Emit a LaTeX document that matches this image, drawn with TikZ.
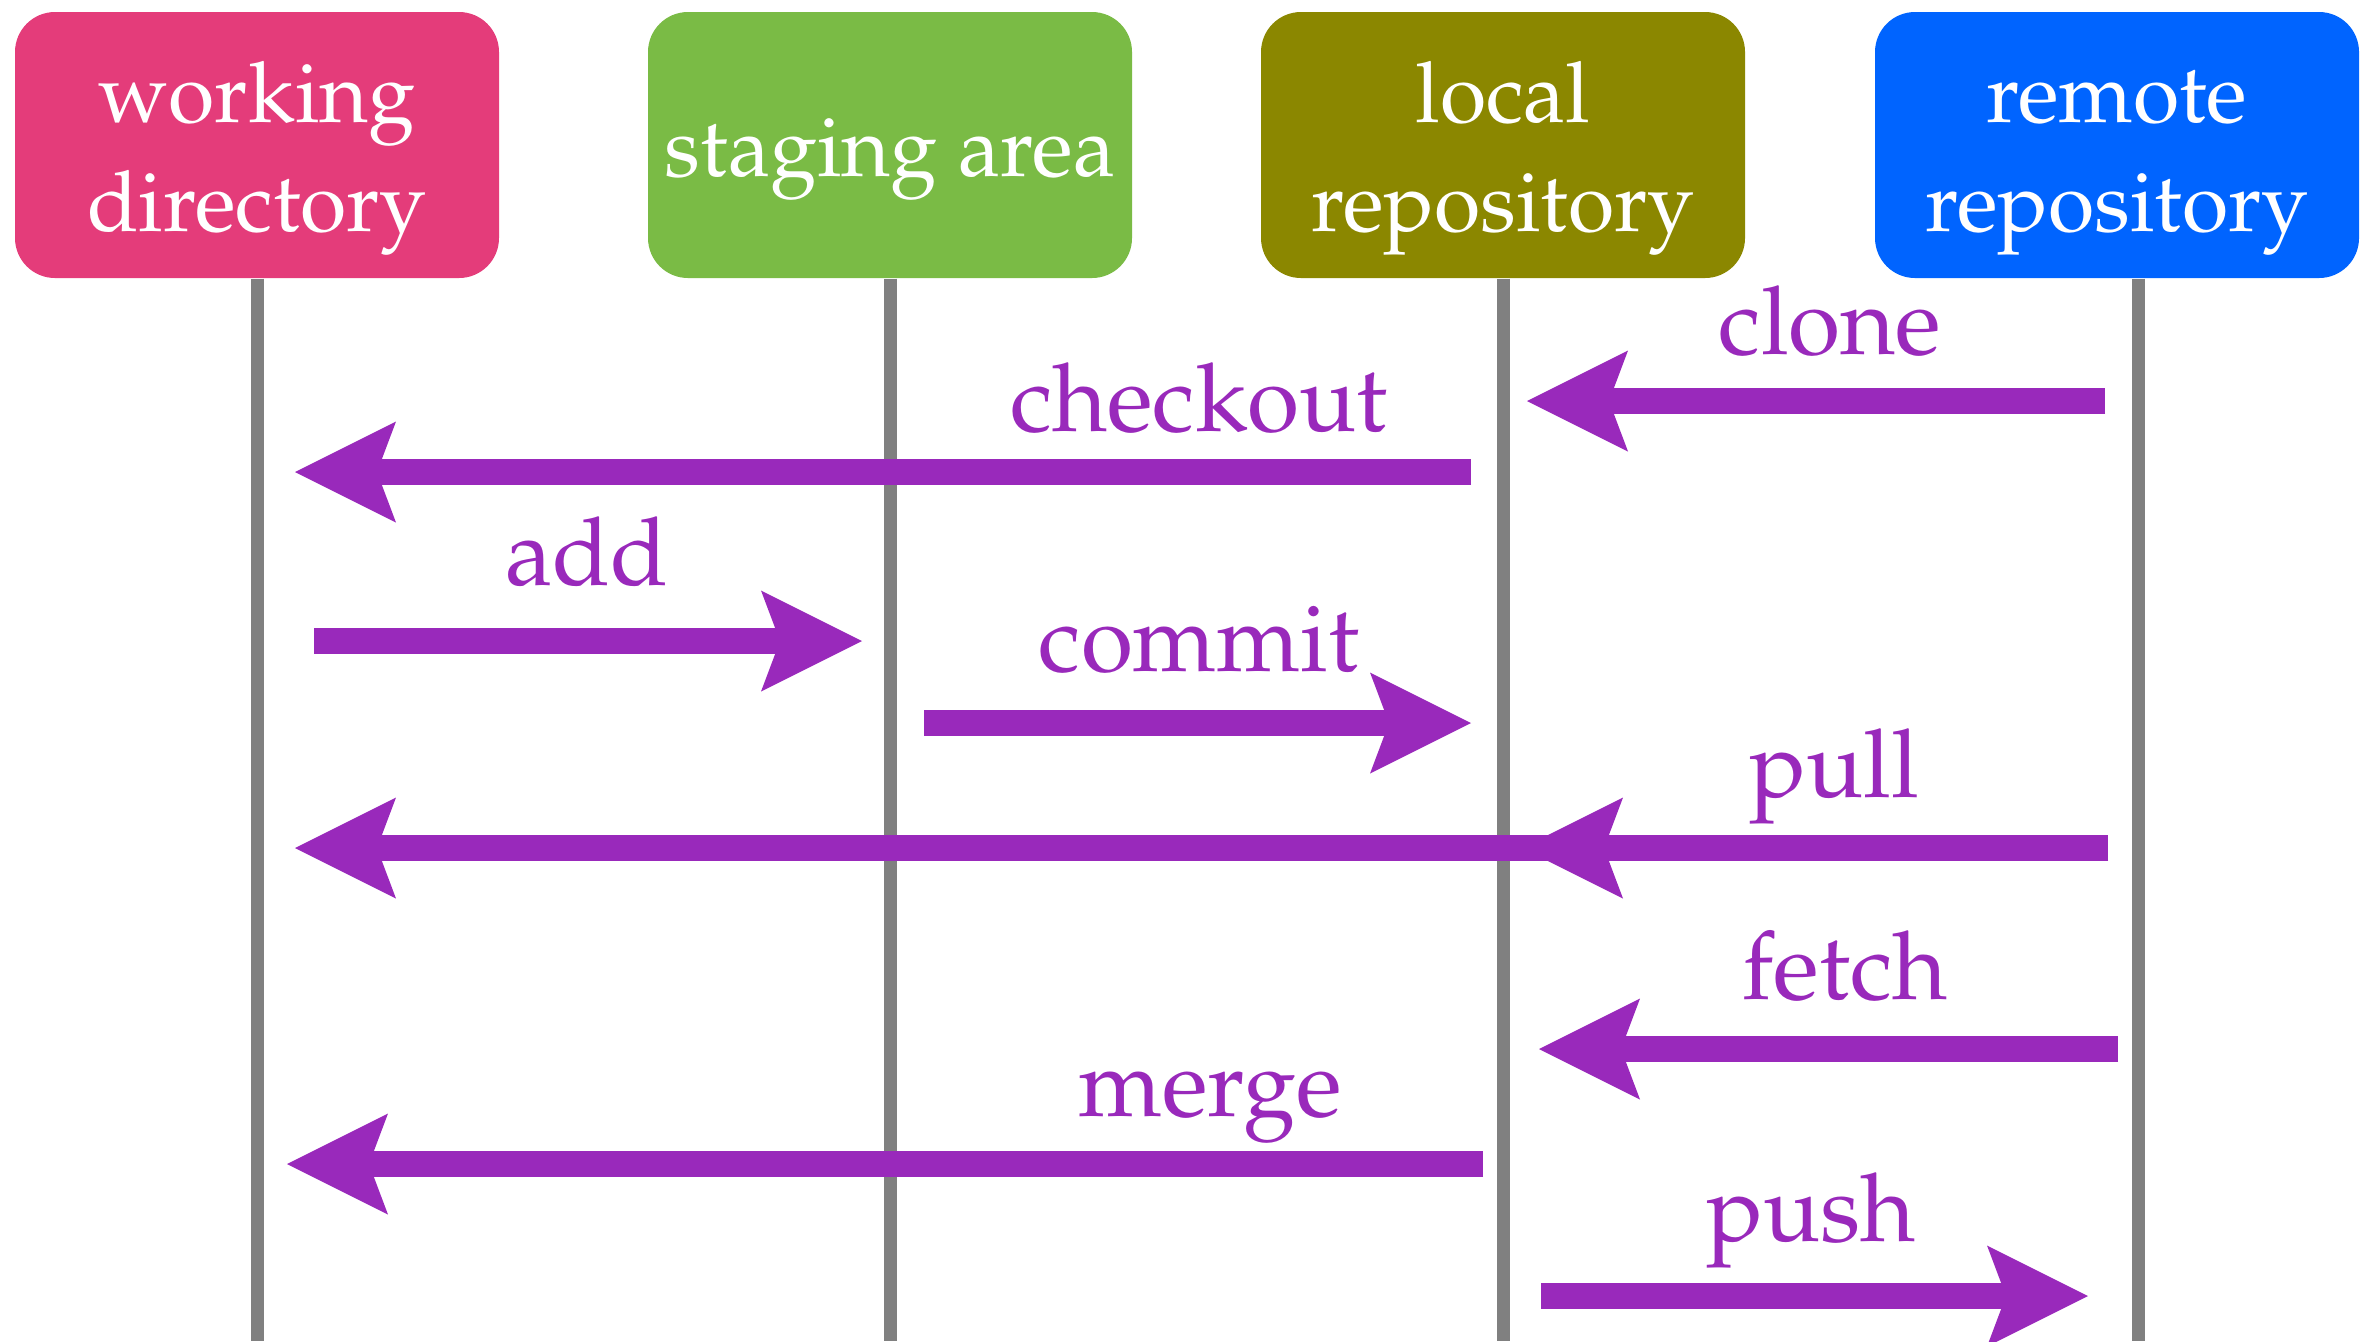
\documentclass[tikz,border=0pt]{standalone}
\usepackage[T1]{fontenc}
\usepackage{mathpazo}
\usepackage{xcolor}
\definecolor{gitpink}{RGB}{228,60,122}
\definecolor{gitgreen}{RGB}{122,187,69}
\definecolor{gitolive}{RGB}{139,135,0}
\definecolor{gitblue}{RGB}{0,100,255}
\definecolor{gitpurple}{RGB}{153,41,187}
\definecolor{gitgray}{RGB}{128,128,128}
\usepackage{tikz}
\usetikzlibrary{arrows.meta, positioning}

\newcommand{\areaname}[1]{\raisebox{-0.1cm}[\height][\depth]{\begin{tabular}{@{}c@{}}#1\end{tabular}}}

\tikzset{
  area/.style={rounded corners=0.4cm, minimum width=4.84cm, minimum height=2.66cm,
               inner sep=0pt, text=white, font=\fontsize{24}{31}\selectfont},
  lifeline/.style={draw=gitgray, line width=0.13cm},
  gitcmd/.style={draw=gitpurple, line width=0.26cm,
               -{Stealth[length=1.01cm, width=1.01cm, inset=0.19cm, line width=0pt]}},
  cmdlabel/.style={text=gitpurple, anchor=base, inner sep=0pt, font=\fontsize{27}{32}\selectfont}
}

\begin{document}
\begin{tikzpicture}
      \useasboundingbox (0,0) rectangle (23.71,-13.41);

      % the four areas
      \node[area, fill=gitpink]  (wd) at (2.57,-1.45)  {\areaname{working\\directory}};
      \node[area, fill=gitgreen] (sa) at (8.90,-1.45)  {\areaname{staging area}};
      \node[area, fill=gitolive] (lr) at (15.03,-1.45) {\areaname{local\\repository}};
      \node[area, fill=gitblue]  (rr) at (21.17,-1.45) {\areaname{remote\\repository}};

      % lifelines
      \coordinate (wdbot) at (2.57,-13.41);
      \coordinate (sabot) at (8.90,-13.41);
      \coordinate (lrbot) at (15.03,-13.41);
      \coordinate (rrbot) at (21.38,-13.41);
      \draw[lifeline] (wd.south) -- (wdbot);
      \draw[lifeline] (sa.south) -- (sabot);
      \draw[lifeline] (lr.south) -- (lrbot);
      \draw[lifeline] (rr.south -| rrbot) -- (rrbot);

      % clone
      \coordinate (clone1) at (21.05,-4.01);
      \coordinate (clone2) at (15.27,-4.01);
      \draw[gitcmd] (clone1) -- (clone2);
      \node[cmdlabel] (lclone) at (18.30,-3.54) {clone};

      % checkout
      \coordinate (checkout1) at (14.71,-4.72);
      \coordinate (checkout2) at (2.95,-4.72);
      \draw[gitcmd] (checkout1) -- (checkout2);
      \node[cmdlabel] (lcheckout) at (11.99,-4.31) {checkout};

      % add
      \coordinate (add1) at (3.14,-6.41);
      \coordinate (add2) at (8.62,-6.41);
      \draw[gitcmd] (add1) -- (add2);
      \node[cmdlabel] (ladd) at (5.87,-5.85) {add};

      % commit
      \coordinate (commit1) at (9.24,-7.23);
      \coordinate (commit2) at (14.71,-7.23);
      \draw[gitcmd] (commit1) -- (commit2);
      \node[cmdlabel] (lcommit) at (11.99,-6.71) {commit};

      % pull = fetch + merge
      \coordinate (pull1) at (21.08,-8.48);
      \coordinate (pull2) at (15.22,-8.48);
      \coordinate (pull3) at (2.95,-8.48);
      \draw[gitcmd] (pull1) -- (pull3);
      \draw[gitcmd] (pull1) -- (pull2);
      \node[cmdlabel] (lpull) at (18.34,-7.97) {pull};

      % fetch
      \coordinate (fetch1) at (21.18,-10.49);
      \coordinate (fetch2) at (15.39,-10.49);
      \draw[gitcmd] (fetch1) -- (fetch2);
      \node[cmdlabel] (lfetch) at (18.45,-9.99) {fetch};

      % merge
      \coordinate (merge1) at (14.83,-11.64);
      \coordinate (merge2) at (2.87,-11.64);
      \draw[gitcmd] (merge1) -- (merge2);
      \node[cmdlabel] (lmerge) at (12.10,-11.16) {merge};

      % push
      \coordinate (push1) at (15.41,-12.96);
      \coordinate (push2) at (20.88,-12.96);
      \draw[gitcmd] (push1) -- (push2);
      \node[cmdlabel] (lpush) at (18.11,-12.41) {push};
\end{tikzpicture}
\end{document}
